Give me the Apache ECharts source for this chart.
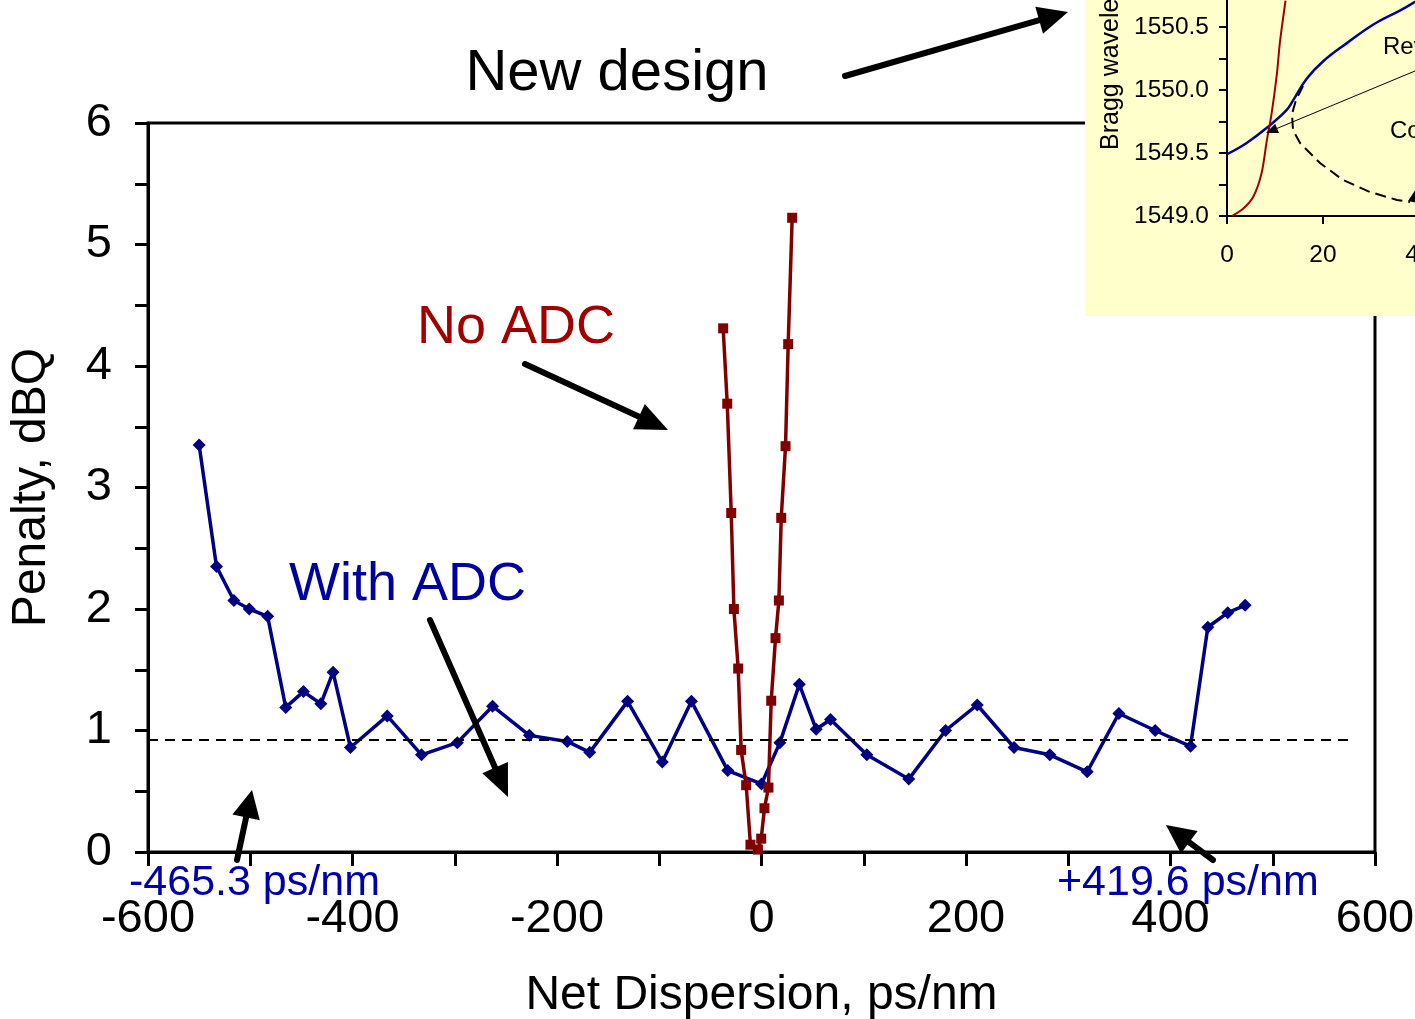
<!DOCTYPE html>
<html>
<head>
<meta charset="utf-8">
<script src="https://cdn.jsdelivr.net/npm/echarts@6/dist/echarts.min.js"></script>
<style>
  html, body { margin: 0; padding: 0; background: #fff; }
  #chart { width: 1415px; height: 1019px; }
</style>
</head>
<body>
<div id="chart"></div>
<script>
// main plot: penalty vs net dispersion
var withAdcDispersion = [-550, -533, -516, -501, -483, -465.3, -448, -431, -419, -402, -366, -332.5, -297.5, -263, -227, -190, -168, -131, -97, -68.5, -33, 0, 18, 37, 53.5, 67.5, 103, 144, 180, 211, 247, 282, 318.5, 349.5, 385, 419.6, 436.5, 456, 473];
var withAdcPenalty = [3.35, 2.35, 2.07, 2.0, 1.94, 1.19, 1.32, 1.22, 1.48, 0.86, 1.12, 0.80, 0.90, 1.20, 0.96, 0.91, 0.82, 1.24, 0.74, 1.24, 0.67, 0.56, 0.90, 1.38, 1.01, 1.09, 0.80, 0.60, 1.00, 1.21, 0.86, 0.80, 0.66, 1.14, 1.00, 0.87, 1.85, 1.97, 2.03];

var noAdcDispersion = [-37.5, -33.5, -29.6, -27, -22.8, -19.9, -15, -10.8, -3.5, -0.3, 2.9, 6.8, 9.5, 13.7, 17, 19.3, 23.5, 26.1, 30];
var noAdcPenalty = [4.31, 3.69, 2.79, 2.0, 1.51, 0.84, 0.55, 0.06, 0.02, 0.11, 0.36, 0.53, 1.245, 1.76, 2.07, 2.75, 3.34, 4.18, 5.22];

var thresholdLevel = 0.92;
var thresholdEnd = 575;

var xTicks = [-600, -400, -200, 0, 200, 400, 600];

// inset: Bragg wavelength curves
var insetBlueX = [0, 4.1, 8.3, 12.4, 13.8, 16.6, 20.1, 24.9, 30.5, 36.0, 39.2, 41];
var insetBlueY = [1549.49, 1549.58, 1549.70, 1549.84, 1549.92, 1550.09, 1550.23, 1550.37, 1550.52, 1550.63, 1550.70, 1550.74];
var insetRedX = [1.0, 3.4, 5.5, 7.2, 8.3, 9.3, 10.4, 11.0, 11.9, 12.2];
var insetRedY = [1549.0, 1549.06, 1549.155, 1549.34, 1549.6, 1549.815, 1550.13, 1550.37, 1550.63, 1550.71];

function pairs(xs, ys) {
    return xs.map(function (x, i) { return [x, ys[i]]; });
}

var FONT = 'Liberation Sans, Arial, sans-serif';

function arrow(x1, y1, x2, y2, lw, head, half) {
    var dx = x2 - x1, dy = y2 - y1, len = Math.hypot(dx, dy);
    var ux = dx / len, uy = dy / len;
    var bx = x2 - ux * head, by = y2 - uy * head;
    return [
        {type: 'line', z: 100, shape: {x1: x1, y1: y1, x2: bx + ux * 2, y2: by + uy * 2},
         style: {stroke: '#000', lineWidth: lw, lineCap: 'round'}},
        {type: 'polygon', z: 100, shape: {points: [[x2, y2], [bx - uy * half, by + ux * half], [bx + uy * half, by - ux * half]]},
         style: {fill: '#000'}}
    ];
}

function label(text, x, y, size, color, align) {
    return {type: 'text', z: 100, x: x, y: y,
        style: {text: text, fill: color, font: size + 'px ' + FONT, textAlign: align || 'left', textVerticalAlign: 'middle'}};
}

var graphics = [
    // inset background
    {type: 'rect', z: 50, shape: {x: 1085, y: 0, width: 340, height: 316}, style: {fill: '#ffffcc'}},
    {type: 'text', z: 100, x: 1111, y: 150, rotation: Math.PI / 2,
     style: {text: 'Bragg wavelength, nm', fill: '#000', font: '25px ' + FONT, textAlign: 'left', textVerticalAlign: 'middle'}},
    label('Rev', 1383, 47, 24, '#000'),
    label('Co', 1390, 131, 24, '#000'),
    {type: 'polyline', z: 100, shape: {points: [[1303, 86], [1296, 100], [1292, 114], [1293, 130], [1300, 143], [1320, 163], [1343, 180], [1370, 192], [1397, 200], [1410, 202]]},
     style: {stroke: '#000', lineWidth: 2, lineDash: [11, 6], fill: null}},
    {type: 'polygon', z: 100, shape: {points: [[1416, 189], [1408, 201], [1418, 203]]}, style: {fill: '#000'}},

    label('New design', 617, 74, 58, '#000', 'center'),
    label('No ADC', 417, 328, 54, '#a00000'),
    label('With ADC', 289, 585, 54, '#0000a0'),
    label('-465.3 ps/nm', 129, 883, 43, '#0000a8'),
    label('+419.6 ps/nm', 1057, 883, 43, '#0000a8')
]
    .concat(arrow(845, 76, 1068, 12, 6, 30, 14))
    .concat(arrow(525, 364, 668, 430, 6, 32, 14))
    .concat(arrow(430, 620, 508, 797, 6, 32, 14))
    .concat(arrow(237, 860, 252, 790, 6, 28, 14))
    .concat(arrow(1213, 860, 1166, 825, 6, 29, 14))
    .concat(arrow(1415, 71, 1266, 133, 1, 12, 5));

var chart = echarts.init(document.getElementById('chart'), null, {renderer: 'canvas'});

var tickText = {color: '#000', fontSize: 47, fontFamily: FONT};
var nameText = {color: '#000', fontSize: 48, fontFamily: FONT};
var insetText = {color: '#000', fontSize: 24.5, fontFamily: FONT};

var option = {
    backgroundColor: '#fff',
    animation: false,
    grid: [{
        left: 148, right: 40, top: 123, bottom: 167,
        show: true, borderColor: '#000', borderWidth: 3, backgroundColor: 'transparent',
        outerBoundsMode: 'none'
    }, {
        left: 1227, top: -36, width: 288, height: 252,
        outerBoundsMode: 'none'
    }],
    xAxis: [{
        gridIndex: 0, type: 'value', min: -600, max: 600, interval: 100,
        name: 'Net Dispersion, ps/nm', nameLocation: 'middle', nameGap: 120,
        nameTextStyle: nameText,
        axisLine: {show: true, onZero: false, lineStyle: {color: '#000', width: 3}},
        axisTick: {show: true, inside: false, length: 14, lineStyle: {color: '#000', width: 3}},
        axisLabel: Object.assign({margin: 44, formatter: function (v) {
            return xTicks.indexOf(v) >= 0 ? String(v) : '';
        }}, tickText),
        splitLine: {show: false}
    }, {
        gridIndex: 1, type: 'value', min: 0, max: 60, interval: 20, z: 60,
        axisLine: {show: true, onZero: false, lineStyle: {color: '#000', width: 2}},
        axisTick: {show: true, inside: false, length: 8, lineStyle: {color: '#000', width: 2}},
        axisLabel: Object.assign({margin: 27}, insetText),
        splitLine: {show: false}
    }],
    yAxis: [{
        gridIndex: 0, type: 'value', min: 0, max: 6, interval: 0.5,
        name: 'Penalty, dBQ', nameLocation: 'middle', nameGap: 92,
        nameTextStyle: nameText,
        axisLine: {show: true, onZero: false, lineStyle: {color: '#000', width: 3}},
        axisTick: {show: true, inside: false, length: 13, lineStyle: {color: '#000', width: 3}},
        axisLabel: Object.assign({margin: 36, formatter: function (v) {
            return Math.abs(v - Math.round(v)) < 1e-6 ? String(Math.round(v)) : '';
        }}, tickText),
        splitLine: {show: false}
    }, {
        gridIndex: 1, type: 'value', min: 1549, max: 1551, interval: 0.25, z: 60,
        axisLine: {show: true, onZero: false, lineStyle: {color: '#000', width: 2}},
        axisTick: {show: true, inside: false, length: 8, lineStyle: {color: '#000', width: 2}},
        axisLabel: Object.assign({margin: 18, formatter: function (v) {
            return Math.abs(v * 2 - Math.round(v * 2)) < 1e-6 ? v.toFixed(1) : '';
        }}, insetText),
        splitLine: {show: false}
    }],
    series: [{
        name: 'With ADC', type: 'line', xAxisIndex: 0, yAxisIndex: 0,
        data: pairs(withAdcDispersion, withAdcPenalty),
        symbol: 'diamond', symbolSize: 13, showAllSymbol: true,
        lineStyle: {color: '#000080', width: 3.5},
        itemStyle: {color: '#000080'},
        markLine: {
            silent: true, symbol: 'none', label: {show: false},
            lineStyle: {color: '#000', width: 2, type: [10, 7]},
            data: [[{coord: [-600, thresholdLevel]}, {coord: [thresholdEnd, thresholdLevel]}]]
        }
    }, {
        name: 'No ADC', type: 'line', xAxisIndex: 0, yAxisIndex: 0,
        data: pairs(noAdcDispersion, noAdcPenalty),
        symbol: 'rect', symbolSize: 10, showAllSymbol: true, z: 3,
        lineStyle: {color: '#800000', width: 3.5},
        itemStyle: {color: '#800000'}
    }, {
        name: 'inset blue', type: 'line', xAxisIndex: 1, yAxisIndex: 1, z: 60,
        data: pairs(insetBlueX, insetBlueY), smooth: 0.4, symbol: 'none',
        lineStyle: {color: '#0000a0', width: 2.5}
    }, {
        name: 'inset red', type: 'line', xAxisIndex: 1, yAxisIndex: 1, z: 60,
        data: pairs(insetRedX, insetRedY), smooth: 0.3, symbol: 'none',
        lineStyle: {color: '#a00000', width: 2}
    }],
    graphic: {elements: graphics}
};

chart.setOption(option);
</script>
</body>
</html>
